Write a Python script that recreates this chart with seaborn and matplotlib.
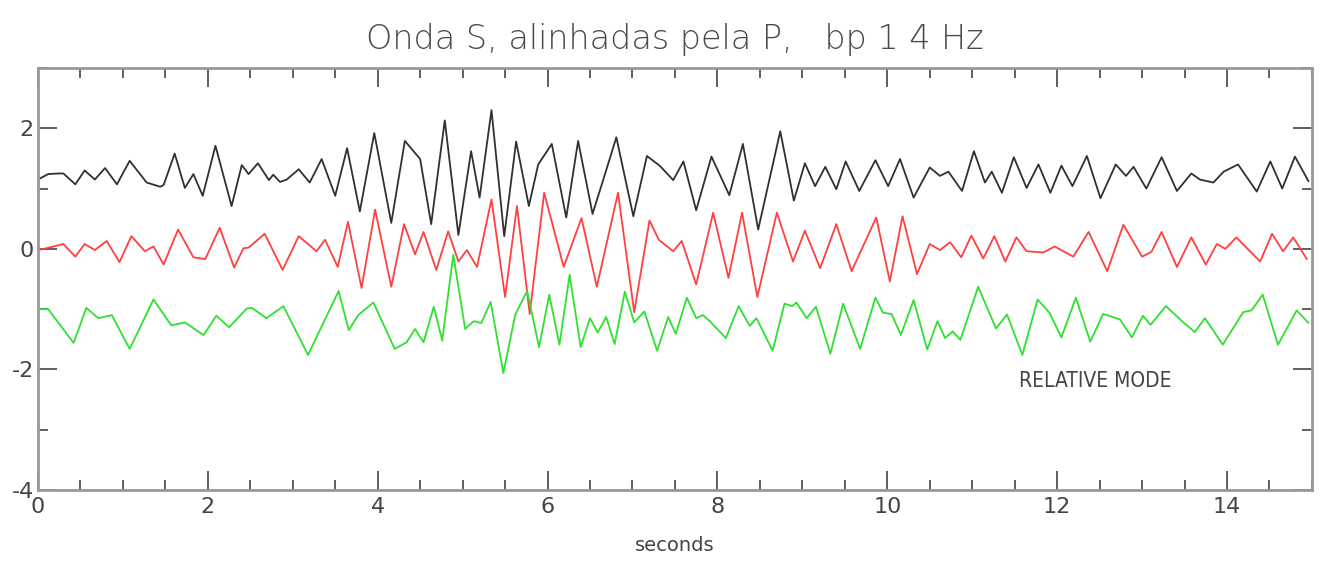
import numpy as np
import pandas as pd
import matplotlib
matplotlib.use("Agg")
import matplotlib.pyplot as plt
import seaborn as sns
from matplotlib.ticker import MultipleLocator

# ======================= DATA ======================
# black trace (upper)
t_black = [0.0, 0.12, 0.24, 0.30, 0.44, 0.55, 0.67, 0.79, 0.93, 1.08, 1.28, 1.44, 1.48,
           1.61, 1.73, 1.83, 1.94, 2.09, 2.28, 2.40, 2.48, 2.59, 2.72, 2.77, 2.85, 2.93,
           3.07, 3.20, 3.34, 3.50, 3.64, 3.79, 3.96, 4.16, 4.32, 4.50, 4.63, 4.79, 4.95,
           5.10, 5.20, 5.34, 5.49, 5.63, 5.78, 5.89, 6.05, 6.22, 6.36, 6.53, 6.67, 6.81,
           7.01, 7.17, 7.32, 7.48, 7.60, 7.75, 7.93, 8.14, 8.30, 8.48, 8.74, 8.90, 9.03,
           9.15, 9.27, 9.40, 9.51, 9.67, 9.86, 10.01, 10.15, 10.31, 10.50, 10.62, 10.72,
           10.88, 11.02, 11.15, 11.23, 11.35, 11.49, 11.64, 11.78, 11.92, 12.05, 12.18,
           12.35, 12.51, 12.69, 12.81, 12.90, 13.05, 13.23, 13.41, 13.58, 13.68, 13.84,
           13.96, 14.13, 14.35, 14.51, 14.65, 14.80, 14.96]
v_black = [1.15, 1.24, 1.25, 1.25, 1.07, 1.30, 1.15, 1.34, 1.07, 1.46, 1.10, 1.03, 1.06,
           1.58, 1.01, 1.24, 0.88, 1.71, 0.71, 1.39, 1.24, 1.42, 1.14, 1.23, 1.11, 1.15,
           1.32, 1.10, 1.49, 0.88, 1.67, 0.62, 1.92, 0.43, 1.79, 1.49, 0.41, 2.13, 0.23,
           1.62, 0.85, 2.30, 0.21, 1.78, 0.71, 1.40, 1.74, 0.52, 1.79, 0.58, 1.21, 1.85,
           0.54, 1.54, 1.38, 1.14, 1.45, 0.64, 1.53, 0.89, 1.74, 0.32, 1.95, 0.80, 1.42,
           1.04, 1.36, 0.99, 1.45, 0.96, 1.47, 1.04, 1.49, 0.85, 1.35, 1.21, 1.28,
           0.96, 1.62, 1.10, 1.28, 0.93, 1.52, 1.01, 1.40, 0.93, 1.38, 1.04,
           1.54, 0.84, 1.40, 1.21, 1.36, 1.00, 1.52, 0.96, 1.25, 1.15, 1.10,
           1.28, 1.40, 0.95, 1.45, 1.00, 1.53, 1.12]

# red trace (middle)
t_red = [0.0, 0.10, 0.30, 0.44, 0.55, 0.67, 0.81, 0.96, 1.10, 1.26, 1.36, 1.48, 1.65,
         1.83, 1.97, 2.14, 2.31, 2.42, 2.48, 2.67, 2.88, 3.07, 3.28, 3.38, 3.53, 3.65,
         3.81, 3.97, 4.16, 4.31, 4.44, 4.54, 4.69, 4.83, 4.95, 5.05, 5.17, 5.34, 5.50,
         5.64, 5.79, 5.96, 6.19, 6.40, 6.58, 6.83, 7.02, 7.20, 7.31, 7.48, 7.58, 7.75,
         7.95, 8.13, 8.29, 8.47, 8.70, 8.89, 9.03, 9.21, 9.40, 9.58, 9.87, 10.03, 10.18,
         10.35, 10.50, 10.62, 10.74, 10.87, 10.99, 11.13, 11.26, 11.39, 11.52, 11.64,
         11.84, 11.97, 12.19, 12.37, 12.59, 12.78, 13.00, 13.11, 13.23, 13.41, 13.58,
         13.75, 13.88, 13.98, 14.11, 14.39, 14.53, 14.66, 14.78, 14.94]
v_red = [-0.02, 0.01, 0.08, -0.13, 0.08, -0.02, 0.13, -0.22, 0.21, -0.04, 0.04, -0.26, 0.32,
         -0.14, -0.17, 0.35, -0.31, 0.01, 0.02, 0.25, -0.35, 0.21, -0.04, 0.15, -0.30, 0.45,
         -0.65, 0.65, -0.63, 0.41, -0.09, 0.28, -0.35, 0.29, -0.21, -0.02, -0.30, 0.82, -0.80,
         0.71, -1.08, 0.93, -0.30, 0.51, -0.63, 0.93, -1.05, 0.47, 0.15, -0.04, 0.13, -0.59,
         0.60, -0.48, 0.60, -0.80, 0.60, -0.21, 0.30, -0.32, 0.41, -0.37, 0.52, -0.54, 0.54,
         -0.42, 0.08, -0.02, 0.11, -0.14, 0.22, -0.16, 0.21, -0.21, 0.19, -0.04,
         -0.06, 0.04, -0.13, 0.28, -0.37, 0.40, -0.13, -0.05, 0.28, -0.30, 0.19,
         -0.26, 0.08, 0.00, 0.19, -0.21, 0.25, -0.04, 0.19, -0.17]

# green trace (lower)
t_green = [0.0, 0.12, 0.42, 0.57, 0.71, 0.87, 1.08, 1.36, 1.57, 1.73, 1.95, 2.10, 2.25,
           2.46, 2.52, 2.69, 2.89, 3.18, 3.54, 3.66, 3.77, 3.95, 4.20, 4.34, 4.44, 4.54,
           4.66, 4.76, 4.89, 5.03, 5.13, 5.22, 5.33, 5.48, 5.62, 5.76, 5.90, 6.02, 6.14,
           6.26, 6.39, 6.50, 6.59, 6.69, 6.79, 6.91, 7.02, 7.14, 7.29, 7.42, 7.51, 7.64,
           7.75, 7.83, 7.91, 8.10, 8.25, 8.38, 8.46, 8.65, 8.79, 8.88, 8.93, 9.05, 9.16,
           9.33, 9.48, 9.68, 9.86, 9.95, 10.05, 10.16, 10.31, 10.47, 10.59, 10.68, 10.77,
           10.86, 11.07, 11.28, 11.41, 11.59, 11.77, 11.91, 12.05, 12.22, 12.39, 12.54,
           12.74, 12.88, 13.01, 13.10, 13.28, 13.47, 13.62, 13.74, 13.95, 14.19, 14.29,
           14.42, 14.60, 14.82, 14.96]
v_green = [-1.00, -1.00, -1.56, -0.98, -1.15, -1.10, -1.66, -0.84, -1.27, -1.22, -1.43, -1.11, -1.30,
           -0.99, -0.98, -1.15, -0.95, -1.76, -0.70, -1.35, -1.10, -0.89, -1.66, -1.55, -1.33, -1.55,
           -0.96, -1.52, -0.10, -1.33, -1.20, -1.23, -0.88, -2.06, -1.09, -0.70, -1.63, -0.76, -1.59,
           -0.43, -1.63, -1.15, -1.39, -1.13, -1.58, -0.71, -1.22, -1.04, -1.69, -1.13, -1.41, -0.81,
           -1.15, -1.10, -1.20, -1.48, -0.95, -1.28, -1.15, -1.69, -0.91, -0.95, -0.89, -1.15, -0.96,
           -1.74, -0.91, -1.66, -0.81, -1.06, -1.08, -1.43, -0.85, -1.67, -1.20, -1.48, -1.37,
           -1.51, -0.63, -1.32, -1.09, -1.76, -0.84, -1.06, -1.47, -0.81, -1.54, -1.08,
           -1.17, -1.47, -1.11, -1.26, -0.95, -1.20, -1.38, -1.15, -1.59, -1.05, -1.02,
           -0.76, -1.59, -1.02, -1.23]

title = "Onda S, alinhadas pela P,   bp 1 4 Hz"

df = pd.concat([
    pd.DataFrame({"t": t_black, "v": v_black, "trace": "black"}),
    pd.DataFrame({"t": t_red, "v": v_red, "trace": "red"}),
    pd.DataFrame({"t": t_green, "v": v_green, "trace": "green"}),
])
colors = {"black": "#303030", "red": "#ff4040", "green": "#30e030"}

# ======================= PLOT ======================
sns.set_style("white")
plt.rcParams["font.family"] = ["DejaVu Sans"]
plt.rcParams["axes.unicode_minus"] = False

fig = plt.figure(figsize=(13.22, 5.61), dpi=100)
ax = fig.add_axes([0.0287, 0.1266, 0.9637, 0.7522])

sns.lineplot(data=df, x="t", y="v", hue="trace", palette=colors, sort=False,
             estimator=None, linewidth=1.3, legend=False, ax=ax)
for ln in ax.lines:
    ln.set_solid_joinstyle("round")

ax.set_xlim(0, 15)
ax.set_ylim(-4, 3)
ax.xaxis.set_major_locator(MultipleLocator(2))
ax.xaxis.set_minor_locator(MultipleLocator(0.5))
ax.yaxis.set_major_locator(MultipleLocator(2))
ax.yaxis.set_minor_locator(MultipleLocator(1))
ax.tick_params(which="both", direction="in", bottom=True, left=True, top=True, right=True,
               color="#444444", width=1.2, labelsize=16, labelcolor="#444444")
ax.tick_params(which="major", length=14)
ax.tick_params(which="minor", length=7)
ax.tick_params(axis="y", pad=3)
ax.tick_params(axis="x", pad=5)
for s in ax.spines.values():
    s.set_color("#999999")
    s.set_linewidth(2)

ax.set_xlabel("seconds", fontsize=14, color="#444444", labelpad=14)
ax.set_ylabel("")
ax.set_title(title, fontsize=24, color="#4a4a4a", fontweight="light", pad=14)
ax.text(11.55, -2.3, "RELATIVE MODE", fontsize=15, color="#444444",
        fontstretch="condensed")

fig.savefig("out.png", dpi=100)
